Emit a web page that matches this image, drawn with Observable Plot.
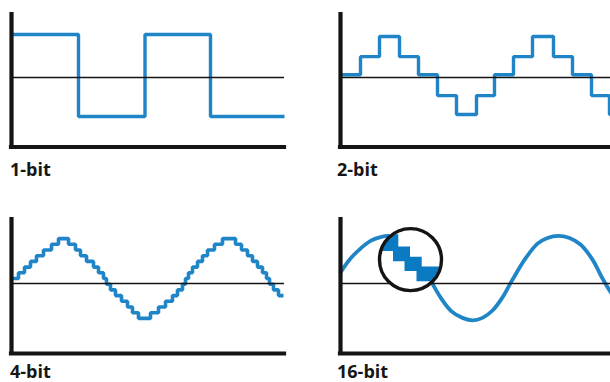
<!DOCTYPE html>
<html>
<head>
<meta charset="utf-8">
<script src="https://cdn.jsdelivr.net/npm/d3@7"></script>
<script src="https://cdn.jsdelivr.net/npm/@observablehq/plot@0.6"></script>
<style>
  html, body { margin: 0; padding: 0; background: #fff; }
  #chart { position: relative; width: 610px; height: 382px; overflow: hidden; background: #fff; }
  .panel { position: absolute; }
  .label { position: absolute; font-family: "Open Sans", "DejaVu Sans", sans-serif; font-weight: 700;
           font-size: 18px; line-height: 18px; color: #161616; white-space: nowrap; }
</style>
</head>
<body>
<div id="chart"></div>
<script>
// ---- data (time along x, signal amplitude along y; 1 = full-scale) ----
const labels = ["1-bit", "2-bit", "4-bit", "16-bit"];

// 1-bit: square wave, step start times and levels
const t1 = [0, 67, 133.5, 199, 273];
const v1 = [1, -1, 1, -1, -1];

// 2-bit: coarse staircase
const t2 = [0, 20, 39, 59, 78, 97, 116, 136, 154, 173, 192, 213, 232, 251, 269, 272];
const v2 = [0.02, 0.46, 0.95, 0.46, 0.02, -0.49, -0.95, -0.49, 0.02, 0.46, 0.95, 0.46, 0.02, -0.49, -0.95, -0.95];

// 4-bit: fine staircase (codes in quantisation steps)
const t4 = [0, 7, 13, 19, 25, 32, 40, 47, 57, 64, 69, 75, 82, 87, 92, 95, 99, 104, 110, 116, 121, 127,
            139, 147, 154, 161, 166, 171, 174, 177, 181, 186, 191, 196, 203, 211, 224, 230, 236, 241, 246,
            251, 255, 258, 262, 267, 272];
const codes4 = [0, 1, 2, 3, 4, 5, 6, 7, 6, 5, 4, 3, 2, 1, 0, -1, -2, -3, -4, -5, -6, -7,
                -6, -5, -4, -3, -2, -1, 0, 1, 2, 3, 4, 5, 6, 7, 6, 5, 4, 3, 2,
                1, 0, -1, -2, -3, -3];
const step4 = 0.139;

// 16-bit: smooth wave
const t16 = [0, 10, 20, 30, 40, 48, 57, 67, 78, 89, 100, 111, 122, 132, 142, 152, 162, 171, 185, 197, 207, 218, 229, 240, 252, 262, 272];
const v16 = [0.15, 0.49, 0.73, 0.92, 1.01, 1.04, 0.99, 0.8, 0.46, 0, -0.46, -0.8, -0.96, -1.02, -0.96, -0.78, -0.46, -0.07, 0.49, 0.85, 0.99, 1.04, 0.99, 0.83, 0.46, 0, -0.41];

// magnifier on the 16-bit wave and the staircase seen through it
const zoomWindow = [{t: 70, v: 0.46}];
const lensT      = [36,   53,   58.3, 64.5, 70,   76.5, 81.7,  105];
const lensTop    = [1.07, 1.07, 0.77, 0.77, 0.52, 0.52, 0.28,  0.28];
const lensBottom = [0.66, 0.41, 0.41, 0.17, 0.17, -0.08, -0.08, -0.32];

// zero reference of each row
const midTop = -0.049;
const midBottom = -0.122;

// ---- drawing ----
const ink = "#141414";
const blue = "#1f85c7";
const blueDeep = "#0a7ac2";
const chart = document.getElementById("chart");

const toRows = (ts, vs) => ts.map((t, i) => ({t, v: vs[i]}));

const layout = {
  left:  {left: 0,   width: 300, marginLeft: 11, marginRight: 16, xDomain: [0, 273]},
  right: {left: 329, width: 281, marginLeft: 11, marginRight: 0,  xDomain: [0, 270]},
  top:    {top: 0,   height: 152, marginTop: 12, marginBottom: 5.5, yDomain: [-1.744, 1.537], mid: midTop},
  bottom: {top: 205, height: 152, marginTop: 12, marginBottom: 4,   yDomain: [-1.829, 1.488], mid: midBottom}
};

function panel(col, row, signalMarks, overMarks = []) {
  const c = layout[col], r = layout[row];
  const svg = Plot.plot({
    width: c.width, height: r.height,
    marginLeft: c.marginLeft, marginRight: c.marginRight,
    marginTop: r.marginTop, marginBottom: r.marginBottom,
    x: {domain: c.xDomain, axis: null},
    y: {domain: r.yDomain, axis: null},
    style: {background: "transparent", overflow: "visible"},
    marks: [
      ...signalMarks,
      Plot.ruleY([r.mid], {stroke: ink, strokeWidth: 1.7}),
      ...overMarks,
      Plot.ruleY([r.yDomain[0]], {stroke: ink, strokeWidth: 4.2, strokeLinecap: "square"}),
      Plot.ruleX([c.xDomain[0]], {stroke: ink, strokeWidth: 4.2})
    ]
  });
  svg.classList.add("panel");
  svg.style.left = c.left + "px";
  svg.style.top = r.top + "px";
  svg.style.maxWidth = "none";
  chart.appendChild(svg);
  return svg;
}

const stepStyle = {x: "t", y: "v", stroke: blue, strokeWidth: 3.4, curve: "step-after",
                   strokeLinejoin: "miter", strokeLinecap: "butt"};

panel("left", "top", [Plot.line(toRows(t1, v1), stepStyle)]);
panel("right", "top", [Plot.line(toRows(t2, v2), stepStyle)]);
panel("left", "bottom", [Plot.line(toRows(t4, codes4.map(c => c * step4)), {...stepStyle, strokeWidth: 3.6})]);

const lensRows = lensT.map((t, i) => ({t, hi: lensTop[i], lo: lensBottom[i]}));
const lensR = 31;
const p16 = panel("right", "bottom",
  [Plot.line(toRows(t16, v16), {x: "t", y: "v", stroke: blue, strokeWidth: 3.8, curve: "catmull-rom"})],
  [
    Plot.dot(zoomWindow, {x: "t", y: "v", r: lensR, fill: "white", stroke: "none"}),
    Plot.areaY(lensRows, {x: "t", y1: "lo", y2: "hi", curve: "step-after", fill: blueDeep}),
    Plot.dot(zoomWindow, {x: "t", y: "v", r: lensR, fill: "none", stroke: ink, strokeWidth: 3.4})
  ]);

// clip the magnified staircase to the lens
{
  const sx = p16.scale("x"), sy = p16.scale("y");
  const cx = sx.apply(zoomWindow[0].t), cy = sy.apply(zoomWindow[0].v);
  const s = d3.select(p16);
  s.insert("defs", ":first-child").append("clipPath").attr("id", "lens")
    .append("circle").attr("cx", cx).attr("cy", cy).attr("r", lensR - 0.5);
  s.selectAll('g[aria-label="area"]').attr("clip-path", "url(#lens)");
}

// captions
const labelPos = [[10, 160], [337, 160], [10, 362], [337, 362]];
labels.forEach((txt, i) => {
  const d = document.createElement("div");
  d.className = "label";
  d.textContent = txt;
  d.style.left = labelPos[i][0] + "px";
  d.style.top = labelPos[i][1] + "px";
  chart.appendChild(d);
});
</script>
</body>
</html>
